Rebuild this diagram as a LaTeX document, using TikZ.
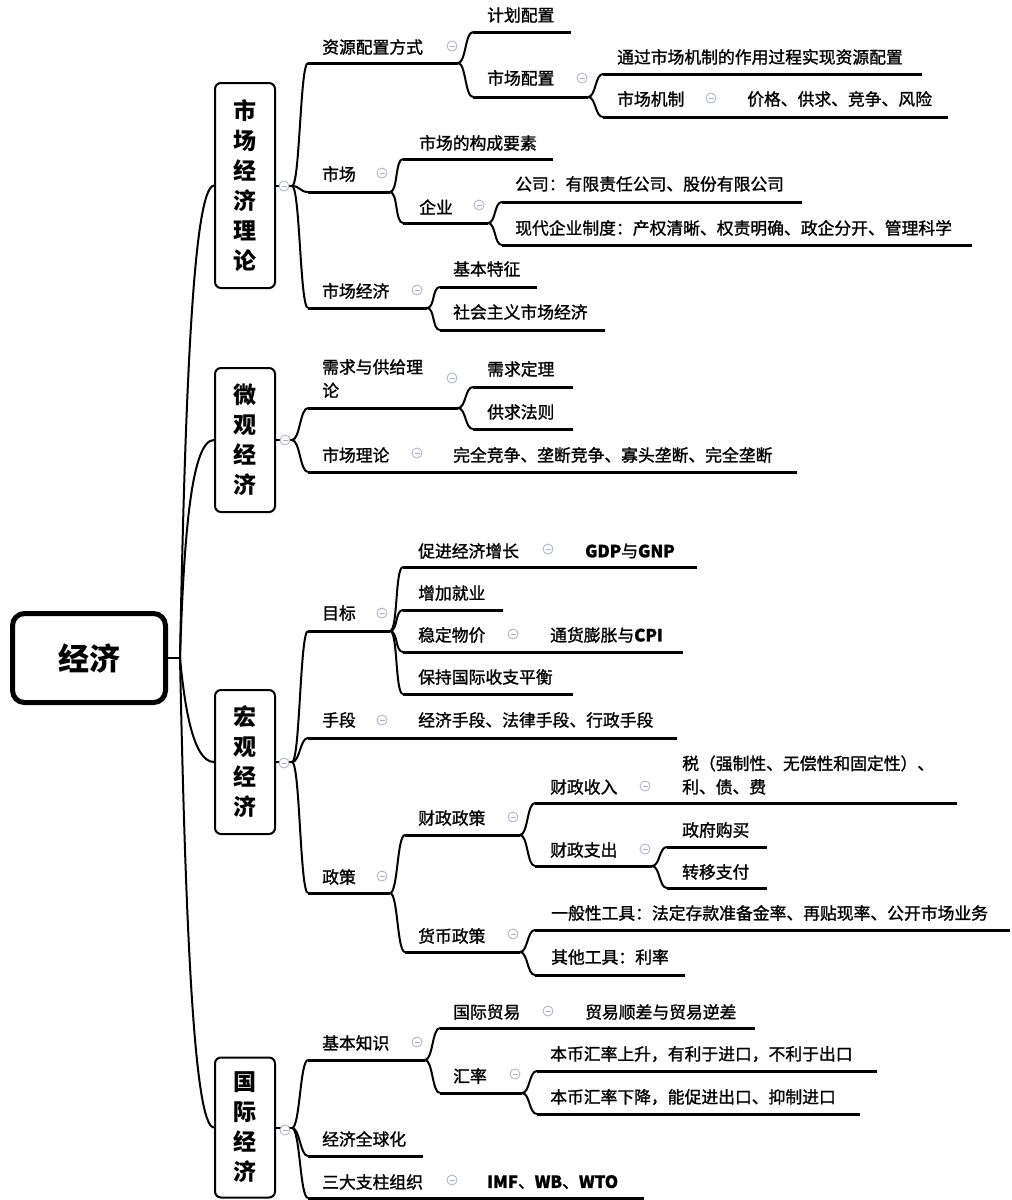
\documentclass[tikz,border=0pt]{standalone}
\usepackage{fontspec}
\setmainfont{Noto Sans CJK SC}
\newfontfamily\cjkt[FakeBold=1.3]{Noto Sans CJK SC}
\definecolor{foldc}{RGB}{170,175,198}
\newcommand\mmtopic[7]{%
  \node[tp] (#1) at (#2,#3) {#7};
  \coordinate (#1-s) at (#5,#4);
  \coordinate (#1-e) at (#6,#4);
  \draw[uline] (#1-s) -- (#1-e);
}
\newcommand\mmfold[3]{\node[foldn] (#1) at (#2,#3) {};}
\newcommand\mmlink[2]{\draw[conn] (#1) .. controls +(8,0) and +(-8,0) .. (#2);}
\newcommand\mmstraight[2]{\draw[uline] (#1) -- (#2);}
\begin{document}
\begin{tikzpicture}[x=1pt,y=-1pt,
  tp/.style={anchor=west, inner sep=0pt, align=left, font=\cjkt\fontsize{16.8}{23.5}\selectfont},
  uline/.style={line width=3pt},
  conn/.style={line width=2pt},
  foldn/.style={circle, draw=foldc, fill=white, line width=0.8pt, minimum size=10pt, inner sep=0pt,
    path picture={\draw[foldc, line width=0.8pt] ([xshift=-2.5pt]path picture bounding box.center) -- ([xshift=2.5pt]path picture bounding box.center);}},
  subj/.style={draw, line width=2pt, rounded corners=6pt, minimum width=60pt, inner sep=0pt, align=center,
    font=\bfseries\fontsize{23}{30}\selectfont},
  rootbox/.style={draw, line width=5pt, rounded corners=12pt, minimum width=153pt, minimum height=89pt,
    font=\bfseries\fontsize{31}{31}\selectfont}
]
\useasboundingbox (0,0) rectangle (1012,1200);
\fill[white] (0,0) rectangle (1012,1200);

% root and subject boxes
\node[rootbox] (root) at (89,658) {经济};
\coordinate (rootj) at (180,658);
\node[subj, minimum height=205pt] (bA) at (245,185.5) {市\\场\\经\\济\\理\\论};
\node[subj, minimum height=144pt] (bB) at (245,440) {微\\观\\经\\济};
\node[subj, minimum height=144pt] (bC) at (245,762) {宏\\观\\经\\济};
\node[subj, minimum height=140pt] (bD) at (245,1127.5) {国\\际\\经\\济};

\draw[conn] (root.east) -- (rootj);
\draw[conn] (rootj) .. controls (185,400) and (193,187) .. (bA.west);
\draw[conn] (rootj) .. controls (184,530) and (192,440) .. (bB.west);
\draw[conn] (rootj) .. controls (184,700) and (192,762) .. (bC.west);
\draw[conn] (rootj) .. controls (185,900) and (193,1128) .. (bD.west);

\coordinate (jA) at (292,186);
\coordinate (jB) at (292,440);
\coordinate (jC) at (292,762);
\coordinate (jD) at (292,1128);
\draw[conn] (bA.east |- jA) -- (jA);
\draw[conn] (bB.east |- jB) -- (jB);
\draw[conn] (bC.east |- jC) -- (jC);
\draw[conn] (bD.east |- jD) -- (jD);

% ---------- 市场经济理论 ----------
\mmtopic{A1}{322}{47}{63}{308}{458}{资源配置方式}
\mmtopic{A1a}{487}{15}{32}{473}{571}{计划配置}
\mmtopic{A1b}{487}{78}{97}{473}{588}{市场配置}
\mmtopic{A1b1}{617}{57}{74}{603}{922}{通过市场机制的作用过程实现资源配置}
\mmtopic{A1b2}{617}{99}{117}{603}{722}{市场机制}
\mmtopic{A1b2a}{747}{99}{117}{730}{948}{价格、供求、竞争、风险}
\mmtopic{A2}{322}{174}{192}{308}{390}{市场}
\mmtopic{A2a}{419}{143}{159}{403}{553}{市场的构成要素}
\mmtopic{A2b}{419}{207}{223}{403}{488}{企业}
\mmtopic{A2b1}{515}{184}{202}{502}{802}{公司：有限责任公司、股份有限公司}
\mmtopic{A2b2}{515}{228}{245}{502}{972}{现代企业制度：产权清晰、权责明确、政企分开、管理科学}
\mmtopic{A3}{322}{291}{308}{308}{427}{市场经济}
\mmtopic{A3a}{453}{269}{287}{440}{537}{基本特征}
\mmtopic{A3b}{453}{312}{330}{440}{605}{社会主义市场经济}

\mmlink{jA}{A1-s} \mmlink{jA}{A2-s} \mmlink{jA}{A3-s}
\mmlink{A1-e}{A1a-s} \mmlink{A1-e}{A1b-s}
\mmlink{A1b-e}{A1b1-s} \mmlink{A1b-e}{A1b2-s}
\mmstraight{A1b2-e}{A1b2a-s}
\mmlink{A2-e}{A2a-s} \mmlink{A2-e}{A2b-s}
\mmlink{A2b-e}{A2b1-s} \mmlink{A2b-e}{A2b2-s}
\mmlink{A3-e}{A3a-s} \mmlink{A3-e}{A3b-s}

% ---------- 微观经济 ----------
\mmtopic{B1}{322}{378.5}{408}{308}{458}{需求与供给理\\论}
\mmtopic{B1a}{487}{369}{387}{473}{573}{需求定理}
\mmtopic{B1b}{487}{412}{429}{473}{573}{供求法则}
\mmtopic{B2}{322}{455}{472}{308}{430}{市场理论}
\mmtopic{B2a}{453}{455}{472}{438}{797}{完全竞争、垄断竞争、寡头垄断、完全垄断}

\mmlink{jB}{B1-s} \mmlink{jB}{B2-s}
\mmlink{B1-e}{B1a-s} \mmlink{B1-e}{B1b-s}
\mmstraight{B2-e}{B2a-s}

% ---------- 宏观经济 ----------
\mmtopic{C1}{322}{613}{631}{308}{390}{目标}
\mmtopic{C1a}{418}{551}{567}{403}{568}{促进经济增长}
\mmtopic{C1a1}{585}{551}{567}{578}{697}{\textbf{GDP}与\textbf{GNP}}
\mmtopic{C1b}{418}{593}{610}{403}{503}{增加就业}
\mmtopic{C1c}{418}{635}{652}{403}{532}{稳定物价}
\mmtopic{C1c1}{550}{635}{652}{540}{683}{通货膨胀与\textbf{CPI}}
\mmtopic{C1d}{418}{677}{694}{403}{573}{保持国际收支平衡}
\mmtopic{C2}{322}{720}{738}{308}{398}{手段}
\mmtopic{C2a}{418}{720}{738}{405}{677}{经济手段、法律手段、行政手段}
\mmtopic{C3}{322}{877}{893}{308}{390}{政策}
\mmtopic{C3a}{418}{818}{835}{405}{520}{财政政策}
\mmtopic{C3a1}{550}{787}{803}{535}{660}{财政收入}
\mmtopic{C3a1a}{682}{775}{803}{667}{957}{税（强制性、无偿性和固定性）、\\利、债、费}
\mmtopic{C3a2}{550}{850}{866}{535}{652}{财政支出}
\mmtopic{C3a2a}{682}{830}{847}{667}{767}{政府购买}
\mmtopic{C3a2b}{682}{872}{888}{667}{767}{转移支付}
\mmtopic{C3b}{418}{936}{952}{405}{520}{货币政策}
\mmtopic{C3b1}{551}{913}{930}{535}{1010}{一般性工具：法定存款准备金率、再贴现率、公开市场业务}
\mmtopic{C3b2}{551}{957}{975}{535}{685}{其他工具：利率}

\mmlink{jC}{C1-s} \mmlink{jC}{C2-s} \mmlink{jC}{C3-s}
\mmlink{C1-e}{C1a-s} \mmlink{C1-e}{C1b-s} \mmlink{C1-e}{C1c-s} \mmlink{C1-e}{C1d-s}
\mmstraight{C1a-e}{C1a1-s}
\mmstraight{C1c-e}{C1c1-s}
\mmstraight{C2-e}{C2a-s}
\mmlink{C3-e}{C3a-s} \mmlink{C3-e}{C3b-s}
\mmlink{C3a-e}{C3a1-s} \mmlink{C3a-e}{C3a2-s}
\mmstraight{C3a1-e}{C3a1a-s}
\mmlink{C3a2-e}{C3a2a-s} \mmlink{C3a2-e}{C3a2b-s}
\mmlink{C3b-e}{C3b1-s} \mmlink{C3b-e}{C3b2-s}

% ---------- 国际经济 ----------
\mmtopic{D1}{322}{1043}{1060}{308}{425}{基本知识}
\mmtopic{D1a}{453}{1012}{1028}{440}{568}{国际贸易}
\mmtopic{D1a1}{585}{1012}{1028}{578}{755}{贸易顺差与贸易逆差}
\mmtopic{D1b}{453}{1076}{1093}{440}{522}{汇率}
\mmtopic{D1b1}{550}{1054}{1071}{537}{877}{本币汇率上升，有利于进口，不利于出口}
\mmtopic{D1b2}{550}{1097}{1114}{537}{860}{本币汇率下降，能促进出口、抑制进口}
\mmtopic{D2}{322}{1139}{1156}{308}{423}{经济全球化}
\mmtopic{D3}{322}{1182}{1198}{308}{470}{三大支柱组织}
\mmtopic{D3a}{487}{1182}{1198}{478}{644}{\textbf{IMF}、\textbf{WB}、\textbf{WTO}}

\mmlink{jD}{D1-s} \mmlink{jD}{D2-s} \mmlink{jD}{D3-s}
\mmlink{D1-e}{D1a-s} \mmlink{D1-e}{D1b-s}
\mmstraight{D1a-e}{D1a1-s}
\mmlink{D1b-e}{D1b1-s} \mmlink{D1b-e}{D1b2-s}
\mmstraight{D3-e}{D3a-s}

% ---------- collapse markers ----------
\mmfold{fA}{284}{186} \mmfold{fB}{285}{440} \mmfold{fC}{284}{763} \mmfold{fD}{285}{1130}
\mmfold{fA1}{452}{46} \mmfold{fA1b}{582}{78} \mmfold{fA1b2}{711}{98}
\mmfold{fA2}{382}{173} \mmfold{fA2b}{479}{205} \mmfold{fA3}{417}{290}
\mmfold{fB1}{452}{378} \mmfold{fB2}{417}{453}
\mmfold{fC1}{382}{613} \mmfold{fC1a}{548}{549} \mmfold{fC1c}{513}{634}
\mmfold{fC2}{382}{720} \mmfold{fC3}{382}{876} \mmfold{fC3a}{513}{817}
\mmfold{fC3a1}{645}{786} \mmfold{fC3a2}{645}{849} \mmfold{fC3b}{513}{934}
\mmfold{fD1}{417}{1042} \mmfold{fD1a}{548}{1011} \mmfold{fD1b}{515}{1074} \mmfold{fD3}{452}{1180}
\end{tikzpicture}
\end{document}
